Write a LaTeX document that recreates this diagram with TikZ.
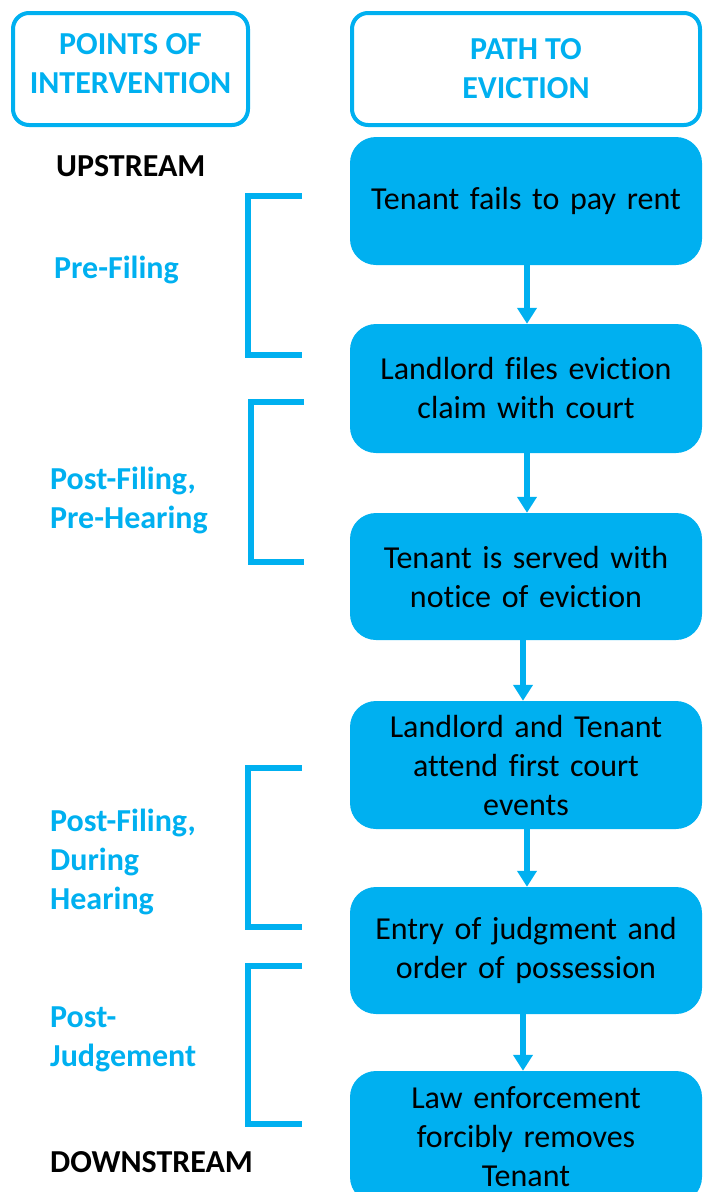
\documentclass[tikz,border=0pt]{standalone}
\usepackage{fontspec}
\setmainfont{Carlito}[Ligatures={NoCommon,NoRare}]
\usetikzlibrary{arrows.meta}
\definecolor{evcyan}{HTML}{00B0F0}
\tikzset{
  stepbox/.style={fill=evcyan, rounded corners=26pt, minimum width=352pt, minimum height=128pt,
    text width=340pt, align=center, inner sep=0pt, font=\fontsize{32}{39}\selectfont},
  headbox/.style={draw=evcyan, line width=4pt, rounded corners=16pt, fill=white, text=evcyan,
    align=center, inner sep=0pt, font=\bfseries\fontsize{32}{39}\selectfont},
  phase/.style={text=evcyan, align=left, anchor=base west, inner sep=0pt,
    font=\bfseries\fontsize{32}{39}\selectfont},
  endlabel/.style={anchor=base west, inner sep=0pt, font=\bfseries\fontsize{32}{39}\selectfont},
  flow/.style={draw=evcyan, line width=5.5pt, -{Triangle[width=19pt,length=16pt]}},
  bracket/.style={draw=evcyan, line width=6pt, line join=miter, line cap=butt},
}
\begin{document}
\begin{tikzpicture}[x=1pt,y=-1pt]
\useasboundingbox (0,0) rectangle (702,1192);
% headers
\node[headbox, minimum width=235pt, minimum height=112pt] (hleft) at (130.5,69)
  {POINTS OF\\INTERVENTION\rule[-11pt]{0pt}{11pt}};
\node[headbox, minimum width=348pt, minimum height=112pt] (hright) at (526,69)
  {PATH TO\\EVICTION};
% steps
\node[stepbox] (s1) at (526,201) {Tenant fails to pay rent};
\node[stepbox, minimum height=129pt] (s2) at (526,388.5) {Landlord files eviction\\claim with court};
\node[stepbox, minimum height=127pt] (s3) at (526,576.5) {Tenant is served with\\notice of eviction};
\node[stepbox] (s4) at (526,765) {Landlord and Tenant\\attend first court\\events};
\node[stepbox, minimum height=127pt] (s5) at (526,950.5) {Entry of judgment and\\order of possession};
\node[stepbox, minimum height=132pt] (s6) at (526,1137) {Law enforcement\\forcibly removes\\Tenant};
% arrows
\draw[flow] ([xshift=1pt]s1.south) -- ([xshift=1pt]s2.north);
\draw[flow] ([xshift=1pt]s2.south) -- ([xshift=1pt]s3.north);
\draw[flow] ([xshift=-3pt]s3.south) -- ([xshift=-3pt]s4.north);
\draw[flow] ([xshift=1pt]s4.south) -- ([xshift=1pt]s5.north);
\draw[flow] ([xshift=-3pt]s5.south) -- ([xshift=-3pt]s6.north);
% labels
\node[endlabel] (up) at (56,176) {UPSTREAM};
\node[endlabel] (down) at (50,1172) {DOWNSTREAM};
\node[phase] (p1) at (54,278) {Pre-Filing};
\node[phase] (p2) at (50,528) {Post-Filing,\\Pre-Hearing};
\node[phase] (p3) at (50,909) {Post-Filing,\\During\\Hearing};
\node[phase] (p4) at (50,1066) {Post-\\Judgement};
% brackets
\draw[bracket] (302,196) -- (248,196) -- (248,355) -- (302,355);
\draw[bracket] (304,402) -- (251,402) -- (251,562) -- (304,562);
\draw[bracket] (302,768) -- (248,768) -- (248,927) -- (302,927);
\draw[bracket] (302,966) -- (248,966) -- (248,1124) -- (302,1124);
\end{tikzpicture}
\end{document}
